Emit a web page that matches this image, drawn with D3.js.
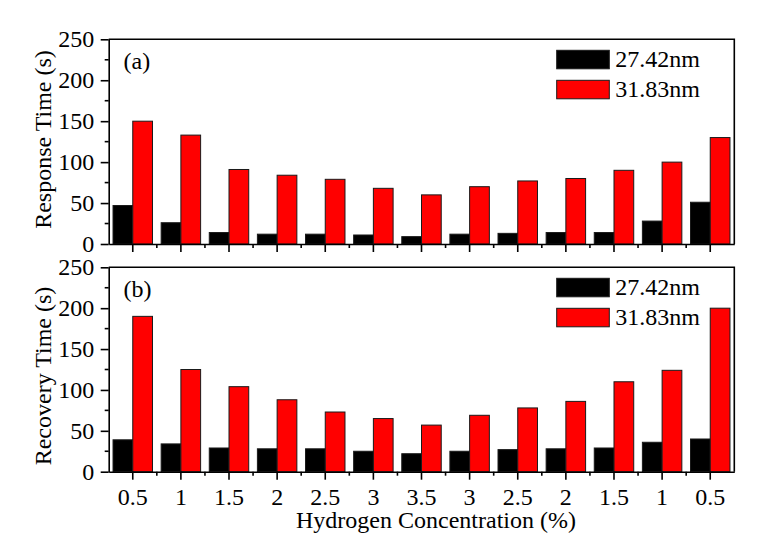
<!DOCTYPE html>
<html><head><meta charset="utf-8">
<script src="https://cdn.jsdelivr.net/npm/d3@7"></script>
</head>
<body style="margin:0;background:#fff">
<svg id="chart" width="763" height="549"></svg>
<script>
const categories = ["0.5","1","1.5","2","2.5","3","3.5","3","2.5","2","1.5","1","0.5"];
const seriesNames = ["27.42nm","31.83nm"];
const seriesColors = ["#000000","#ff0000"];
const responseSmall = [47,26,14,12,12,11,9,12,13,14,14,28,51];
const responseLarge = [150,133,91,84,79,68,60,70,77,80,90,100,130];
const recoverySmall = [39,34,29,28,28,25,22,25,27,28,29,36,40];
const recoveryLarge = [190,125,104,88,73,65,57,69,78,86,110,124,200];
const yTicks = [0,50,100,150,200,250];
const yMinorTicks = [25,75,125,175,225];

const FONT = '"Liberation Serif", "Times New Roman", serif';
const svg = d3.select("#chart");
const left = 108.7, right = 734.3;
const panels = [
  {top:39.3, bottom:244, small:responseSmall, large:responseLarge, label:"(a)", title:"Response Time (s)", titleY:139.5, showX:false},
  {top:267.3, bottom:471.7, small:recoverySmall, large:recoveryLarge, label:"(b)", title:"Recovery Time (s)", titleY:376, showX:true}
];

const x = d3.scaleBand().domain(d3.range(categories.length)).range([left,right]).padding(0);
const bw = x.bandwidth();
const xs = d3.scaleBand().domain(seriesNames).range([bw*0.09, bw*0.91]).padding(0);

panels.forEach(p => {
  const y = d3.scaleLinear().domain([0,250]).range([p.bottom,p.top]);
  const g = svg.append("g");
  const data = categories.map((c,i)=>({i, vals:[p.small[i], p.large[i]]}));
  const grp = g.selectAll("g.cat").data(data).join("g")
    .attr("transform", d=>`translate(${x(d.i)},0)`);
  grp.selectAll("rect").data(d=>d.vals.map((v,k)=>({v,k}))).join("rect")
    .attr("x", d=>xs(seriesNames[d.k]))
    .attr("width", xs.bandwidth())
    .attr("y", d=>y(d.v))
    .attr("height", d=>y(0)-y(d.v))
    .attr("fill", d=>seriesColors[d.k])
    .attr("stroke", "#1a1a1a")
    .attr("stroke-width", 1);

  g.append("path")
    .attr("d", `M${left},${p.top}H${right}V${p.bottom}`)
    .attr("fill","none").attr("stroke","#000").attr("stroke-width",1.6);

  const ya = g.append("g").attr("transform",`translate(${left},0)`)
    .call(d3.axisLeft(y).tickValues(yTicks).tickSize(8).tickPadding(6.4).tickSizeOuter(0));
  ya.append("g").selectAll("line").data(yMinorTicks).join("line")
    .attr("x1",0).attr("x2",-4).attr("y1",d=>y(d)).attr("y2",d=>y(d)).attr("stroke","#000").attr("stroke-width",1.6);

  const xa = g.append("g").attr("transform",`translate(0,${p.bottom})`)
    .call(d3.axisBottom(x).tickSize(8).tickPadding(7.8).tickSizeOuter(0)
      .tickFormat(i=> p.showX ? categories[i] : ""));
  const bounds = d3.range(1,categories.length).map(i=>x(i));
  xa.append("g").selectAll("line").data(bounds).join("line")
    .attr("x1",d=>d).attr("x2",d=>d).attr("y1",0).attr("y2",4).attr("stroke","#000").attr("stroke-width",1.6);
  [ya,xa].forEach(a=>{
    a.attr("font-family",null).attr("font-size",null);
    a.selectAll(".domain").attr("stroke-width",1.6);
    a.selectAll(".tick line").attr("stroke-width",1.6);
    a.selectAll("text").style("font-family",FONT).style("font-size","24px").attr("fill","#000");
  });
  if(!p.showX) xa.selectAll("text").remove();

  g.append("text").attr("x",123.5).attr("y",p.top+29.6)
    .style("font-family",FONT).style("font-size","24px").text(p.label);

  seriesNames.forEach((s,k)=>{
    const ty = p.top + 11 + k*30;
    g.append("rect").attr("x",556.7).attr("y",ty).attr("width",52.6).attr("height",18.5)
      .attr("fill",seriesColors[k]).attr("stroke","#1a1a1a").attr("stroke-width",1);
    g.append("text").attr("x",615.3).attr("y",ty+16.6)
      .style("font-family",FONT).style("font-size","24px").text(s);
  });

  g.append("text").attr("transform",`translate(51,${p.titleY}) rotate(-90)`)
    .attr("text-anchor","middle").style("font-family",FONT).style("font-size","24px").text(p.title);
});

svg.append("text").attr("x",436).attr("y",528.3).attr("text-anchor","middle")
  .style("font-family",FONT).style("font-size","24px").text("Hydrogen Concentration (%)");
</script>
</body></html>
